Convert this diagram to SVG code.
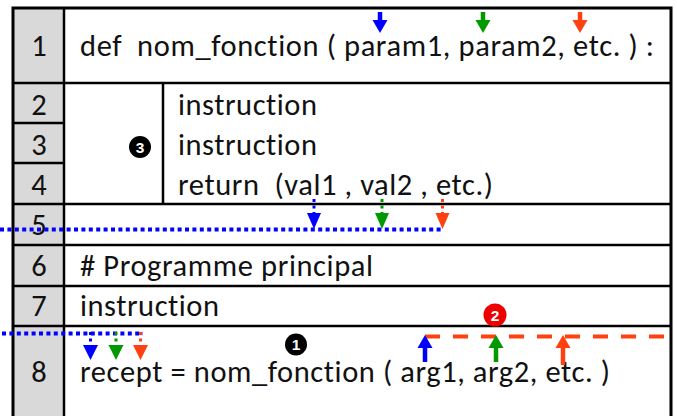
<svg xmlns="http://www.w3.org/2000/svg" width="677" height="416" viewBox="0 0 677 416">
  <style>
    .grid { stroke: #000; stroke-width: 2.5; fill: none; }
    .outer { stroke: #000; stroke-width: 3; fill: none; }
    .code, .num { font-family: Carlito, Lato, "Liberation Sans", sans-serif; font-size: 30.5px; fill: #111;
                  font-variant-ligatures: none; font-feature-settings: "liga" 0, "clig" 0; }
    .num { text-anchor: middle; }
    .badge { font-family: "Liberation Sans", "DejaVu Sans", sans-serif; font-size: 15.5px; font-weight: bold; fill: #fff; text-anchor: middle; }
    .blue { fill: #0000ff; stroke: #0000ff; }
    .green { fill: #009a00; stroke: #009a00; }
    .red { fill: #ff4010; stroke: #ff4010; }
    .shaft { stroke-width: 4.5; fill: none; }
    .dots { stroke-width: 3; stroke-dasharray: 3 3.5; fill: none; }
    .head { stroke: none; }
  </style>

  <!-- table frame -->
  <g id="table">
    <rect x="13" y="8" width="51" height="408" fill="#d9d9d9"/>
    <path class="grid" d="M13 83H671 M13 123H64 M13 163H64 M13 204H671 M13 245H671 M13 286H671 M13 326H671 M64 8V416 M163 83V204"/>
    <path class="outer" d="M13 416V8H671V416"/>
  </g>

  <!-- line numbers -->
  <g id="line-numbers">
    <text class="num" x="39" y="56">1</text>
    <text class="num" x="39" y="115">2</text>
    <text class="num" x="39" y="155">3</text>
    <text class="num" x="39" y="195">4</text>
    <text class="num" x="39" y="235">5</text>
    <text class="num" x="39" y="276">6</text>
    <text class="num" x="39" y="316">7</text>
    <text class="num" x="39" y="382">8</text>
  </g>

  <!-- code lines -->
  <g id="def-line">
    <text class="code" x="80" y="56" xml:space="preserve" textLength="574" lengthAdjust="spacing">def  nom_fonction ( param1, param2, etc. ) :</text>
  </g>
  <g id="body">
    <text class="code" x="178" y="115" textLength="139" lengthAdjust="spacing">instruction</text>
    <text class="code" x="178" y="155" textLength="139" lengthAdjust="spacing">instruction</text>
    <text class="code" x="178" y="195" xml:space="preserve" textLength="315" lengthAdjust="spacing">return  (val1 , val2 , etc.)</text>
  </g>
  <g id="main-comment">
    <text class="code" x="80" y="276" textLength="293" lengthAdjust="spacing"># Programme principal</text>
  </g>
  <g id="main-instruction">
    <text class="code" x="80" y="316" textLength="139" lengthAdjust="spacing">instruction</text>
  </g>
  <g id="call-line">
    <text class="code" x="80" y="382" textLength="530" lengthAdjust="spacing">recept = nom_fonction ( arg1, arg2, etc. )</text>
  </g>

  <!-- numbered badges -->
  <g id="badge-1">
    <circle cx="296" cy="344.5" r="11" fill="#000"/>
    <text class="badge" x="296" y="350">1</text>
  </g>
  <g id="badge-2">
    <circle cx="495" cy="315" r="11.5" fill="#ee0000"/>
    <text class="badge" x="495" y="320.5">2</text>
  </g>
  <g id="badge-3">
    <circle cx="140" cy="147" r="11" fill="#000"/>
    <text class="badge" x="140" y="152.5">3</text>
  </g>

  <!-- connectors: parameter / return value / argument flows -->
  <g id="connectors">
    <!-- parameters in the def line -->
    <path class="blue shaft" d="M380 12V21"/>
    <path class="blue head" d="M372.5 20H387.5L380 33Z"/>
    <path class="green shaft" d="M483 12V21"/>
    <path class="green head" d="M475.5 20H490.5L483 33Z"/>
    <path class="red shaft" d="M580 12V21"/>
    <path class="red head" d="M572.5 20H587.5L580 33Z"/>

    <!-- returned values leaving the function -->
    <path class="blue dots" d="M314 199V214"/>
    <path class="blue head" d="M307 213H321L314 229Z"/>
    <path class="green dots" d="M382 199V214"/>
    <path class="green head" d="M375 213H389L382 229Z"/>
    <path class="red dots" d="M442.5 199V214"/>
    <path class="red head" d="M435.5 213H449.5L442.5 229Z"/>
    <path d="M0 229.5H444" stroke="#0000ff" stroke-width="4" stroke-dasharray="4 3.4" fill="none"/>

    <!-- values received by recept -->
    <path d="M2 333.5H143" stroke="#0000ff" stroke-width="4" stroke-dasharray="4 3.4" fill="none"/>
    <path class="blue dots" d="M90.5 332V346"/>
    <path class="blue head" d="M83 345H98L90.5 360Z"/>
    <path class="green dots" d="M116 332V346"/>
    <path class="green head" d="M108.5 345H123.5L116 360Z"/>
    <path class="red dots" d="M140.5 332V346"/>
    <path class="red head" d="M133 345H148L140.5 360Z"/>

    <!-- arguments sent to the function -->
    <path d="M425 336.5H666" stroke="#ff4010" stroke-width="4" stroke-dasharray="15 13" fill="none"/>
    <path class="blue shaft" d="M425 347V362"/>
    <path class="blue head" d="M417.5 348H432.5L425 335Z"/>
    <path class="green shaft" d="M496 347V362"/>
    <path class="green head" d="M488.5 348H503.5L496 335Z"/>
    <path class="red shaft" d="M563 347V365"/>
    <path class="red head" d="M555.5 348H570.5L563 335Z"/>
  </g>
</svg>
